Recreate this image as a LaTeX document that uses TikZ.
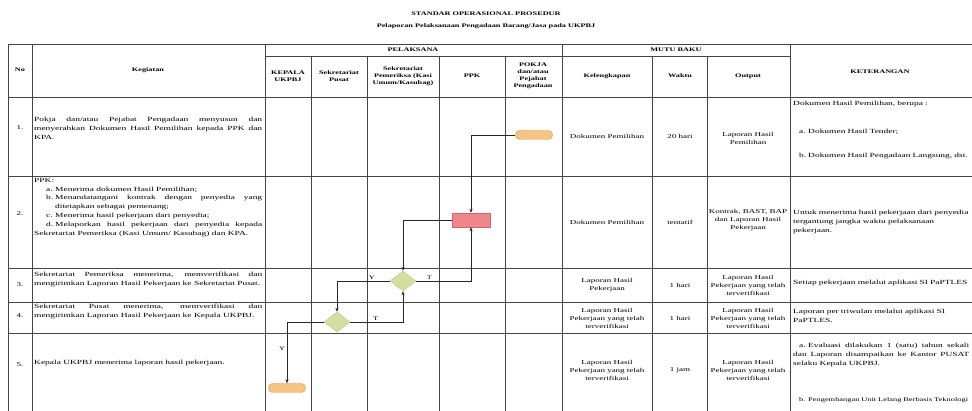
\documentclass[tikz,border=0pt]{standalone}
\usepackage{fontspec}
\setmainfont{Liberation Serif}[FakeStretch=1.5]
\usetikzlibrary{shapes.geometric,arrows.meta,positioning}
\definecolor{gridc}{RGB}{70,70,70}
\definecolor{termc}{RGB}{246,196,130}
\definecolor{termd}{RGB}{232,150,80}
\definecolor{ppkc}{RGB}{238,134,140}
\definecolor{ppkd}{RGB}{214,100,108}
\definecolor{diac}{RGB}{212,222,160}
\definecolor{diad}{RGB}{186,198,128}
\hyphenpenalty=10000
\exhyphenpenalty=10000
\newcommand{\sopsize}{\fontsize{6.3}{8.8}\selectfont}
\newcommand{\cellsize}{\fontsize{6}{8}\selectfont}
\newcommand{\hdsize}{\fontsize{5.5}{7}\selectfont\bfseries}
\newcommand{\sopitem}[3][12pt]{\par\hangindent=\dimexpr#1+9pt\relax\hangafter=1\noindent\hspace*{#1}\makebox[9pt][l]{#2}#3}

\begin{document}
\begin{tikzpicture}[x=1pt,y=-1pt,
    grid/.style={draw=gridc, line width=0.6pt},
    cell/.style={font=\cellsize, align=center, inner sep=1pt},
    hd/.style={font=\hdsize, align=center, inner sep=1pt},
    txt/.style={font=\sopsize, align=justify, text width=#1, inner sep=0pt, anchor=north west},
    terminal/.style={rectangle, rounded corners=4pt, minimum width=37pt, minimum height=9pt, fill=termc, draw=termd, inner sep=0pt},
    proc/.style={rectangle, minimum width=38pt, minimum height=14pt, fill=ppkc, draw=ppkd, inner sep=0pt},
    decide/.style={diamond, minimum width=26pt, minimum height=20pt, fill=diac, draw=diad, inner sep=0pt},
    flow/.style={draw=black!85, line width=0.6pt, -{Stealth[length=4pt,width=3.2pt]}},
    yt/.style={font=\fontsize{5.5}{6}\selectfont, inner sep=1.5pt}]
    \useasboundingbox (0,0) rectangle (972,411);

	% title
	\node[font=\fontsize{5.5}{6}\selectfont\bfseries] (title) at (486,14) {STANDAR OPERASIONAL PROSEDUR};
	\node[font=\fontsize{5.5}{6}\selectfont\bfseries] (subtitle) at (486,26) {Pelaporan Pelaksanaan Pengadaan Barang/Jasa pada UKPBJ};

	% table lines
	\draw[grid] (8,44) -- (972,44);
	\draw[grid] (265,56) -- (790,56);
	\draw[grid] (8,97) -- (972,97);
	\foreach \y in {176,268,302,333}
		\draw[grid] (8,\y) -- (972,\y);
	\foreach \x in {8,32,265,562,790}
		\draw[grid] (\x,44) -- (\x,411);
	\foreach \x in {311,367,439,505,652,707}
		\draw[grid] (\x,56) -- (\x,411);

	% header
	\node[hd] (hno) at (20,70) {No};
	\node[hd] (hkeg) at (148,70) {Kegiatan};
	\node[hd] (hpel) at (413,50) {PELAKSANA};
	\node[hd] (hmutu) at (676,50) {MUTU BAKU};
	\node[hd] (hkep) at (288,76) {KEPALA\\UKPBJ};
	\node[hd] (hsp) at (339,76) {Sekretariat\\Pusat};
	\node[hd] (hspm) at (403,76) {Sekretariat\\Pemeriksa (Kasi\\Umum/Kasubag)};
	\node[hd] (hppk) at (472,76) {PPK};
	\node[hd] (hpokja) at (533,76) {POKJA\\dan/atau\\Pejabat\\Pengadaan};
	\node[hd] (hkel) at (607,76) {Kelengkapan};
	\node[hd] (hwkt) at (680,76) {Waktu};
	\node[hd] (hout) at (748,76) {Output};
	\node[hd] (hket) at (880,72) {KETERANGAN};

	% no + kegiatan
	\node[cell] (n1) at (20,128) {1.};
	\node[cell] (n2) at (20,214) {2.};
	\node[cell] (n3) at (20,285) {3.};
	\node[cell] (n4) at (20,316) {4.};
	\node[cell] (n5) at (20,365) {5.};
	\node[txt=228] (k1) at (34,117) {Pokja dan/atau Pejabat Pengadaan menyusun dan\linebreak menyerahkan Dokumen Hasil Pemilihan kepada PPK dan\linebreak KPA.};
	\node[txt=228] (k2) at (34,178) {PPK:
		\sopitem{a.}{Menerima dokumen Hasil Pemilihan;}
		\sopitem{b.}{Menandatangani kontrak dengan penyedia yang\linebreak ditetapkan sebagai pemenang;}
		\sopitem{c.}{Menerima hasil pekerjaan dari penyedia;}
		\sopitem{d.}{Melaporkan hasil pekerjaan dari penyedia kepada\linebreak Sekretariat Pemeriksa (Kasi Umum/ Kasubag) dan KPA.}};
	\node[txt=228] (k3) at (34,272) {Sekretariat Pemeriksa menerima, memverifikasi dan\linebreak mengirimkan Laporan Hasil Pekerjaan ke Sekretariat Pusat.};
	\node[txt=228] (k4) at (34,304) {Sekretariat Pusat menerima, memverifikasi dan\linebreak mengirimkan Laporan Hasil Pekerjaan ke Kepala UKPBJ.};
	\node[txt=228] (k5) at (34,360) {Kepala UKPBJ menerima laporan hasil pekerjaan.};

	% mutu baku
	\node[cell] (kel1) at (607,136) {Dokumen Pemilihan};
	\node[cell] (wkt1) at (680,136) {20 hari};
	\node[cell] (out1) at (748,138) {Laporan Hasil\\Pemilihan};
	\node[cell] (kel2) at (607,222) {Dokumen Pemilihan};
	\node[cell] (wkt2) at (680,222) {tentatif};
	\node[cell] (out2) at (748,220) {Kontrak, BAST, BAP\\dan Laporan Hasil\\Pekerjaan};
	\node[cell] (kel3) at (607,285) {Laporan Hasil\\Pekerjaan};
	\node[cell] (wkt3) at (680,285) {1 hari};
	\node[cell] (out3) at (748,285) {Laporan Hasil\\Pekerjaan yang telah\\terverifikasi};
	\node[cell] (kel4) at (607,318) {Laporan Hasil\\Pekerjaan yang telah\\terverifikasi};
	\node[cell] (wkt4) at (680,318) {1 hari};
	\node[cell] (out4) at (748,318) {Laporan Hasil\\Pekerjaan yang telah\\terverifikasi};
	\node[cell] (kel5) at (607,370) {Laporan Hasil\\Pekerjaan yang telah\\terverifikasi};
	\node[cell] (wkt5) at (680,370) {1 jam};
	\node[cell] (out5) at (748,370) {Laporan Hasil\\Pekerjaan yang telah\\terverifikasi};

	% keterangan
	\node[txt=176, align=left] (ket1) at (793,101) {Dokumen Hasil Pemilihan, berupa :};
	\node[txt=176, align=left] (ket1a) at (793,125) {\sopitem[6pt]{a.}{Dokumen Hasil Tender;}};
	\node[txt=176, align=left] (ket1b) at (793,149) {\sopitem[6pt]{b.}{Dokumen Hasil Pengadaan Langsung, dst.}};
	\node[txt=176, align=left] (ket2) at (793,210) {Untuk menerima hasil pekerjaan dari penyedia tergantung jangka waktu pelaksanaan pekerjaan.};
	\node[txt=176, align=left] (ket3) at (793,280) {Setiap pekerjaan melalui aplikasi SI PaPTLES};
	\node[txt=176, align=left] (ket4) at (793,309) {Laporan per triwulan melalui aplikasi SI\\PaPTLES.};
	\node[txt=176] (ket5a) at (793,339) {\sopitem[6pt]{a.}{Evaluasi dilakukan 1 (satu) tahun sekali dan Laporan disampaikan ke Kantor PUSAT selaku Kepala UKPBJ.}};
	\node[txt=176, align=left, font=\fontsize{5.6}{8}\selectfont] (ket5b) at (793,393) {\sopitem[6pt]{b.}{Pengembangan Unit Lelang Berbasis Teknologi}};

	% flow
	\node[terminal] (pokja1) at (534,135) {};
	\node[proc] (ppk2) at (471,220) {};
	\node[decide] (ver3) at (403,281) {};
	\node[decide] (ver4) at (337,322) {};
	\node[terminal] (kep5) at (287,388) {};

	\draw[flow] (pokja1.west) -| (ppk2.north);
	\draw[flow] (ppk2.west) -| (ver3.north);
	\draw[flow] (ver3.east) -| node[yt, above, pos=0.12, text=blue!60!black] {T} (ppk2.south);
	\draw[flow] (ver3.west) -| node[yt, above, pos=0.17] {Y} (ver4.north);
	\draw[flow] (ver4.east) -| node[yt, above, pos=0.24] {T} (ver3.south);
	\draw[flow] (ver4.west) -| node[yt, left, pos=0.72] {Y} (kep5.north);

\end{tikzpicture}
\end{document}
